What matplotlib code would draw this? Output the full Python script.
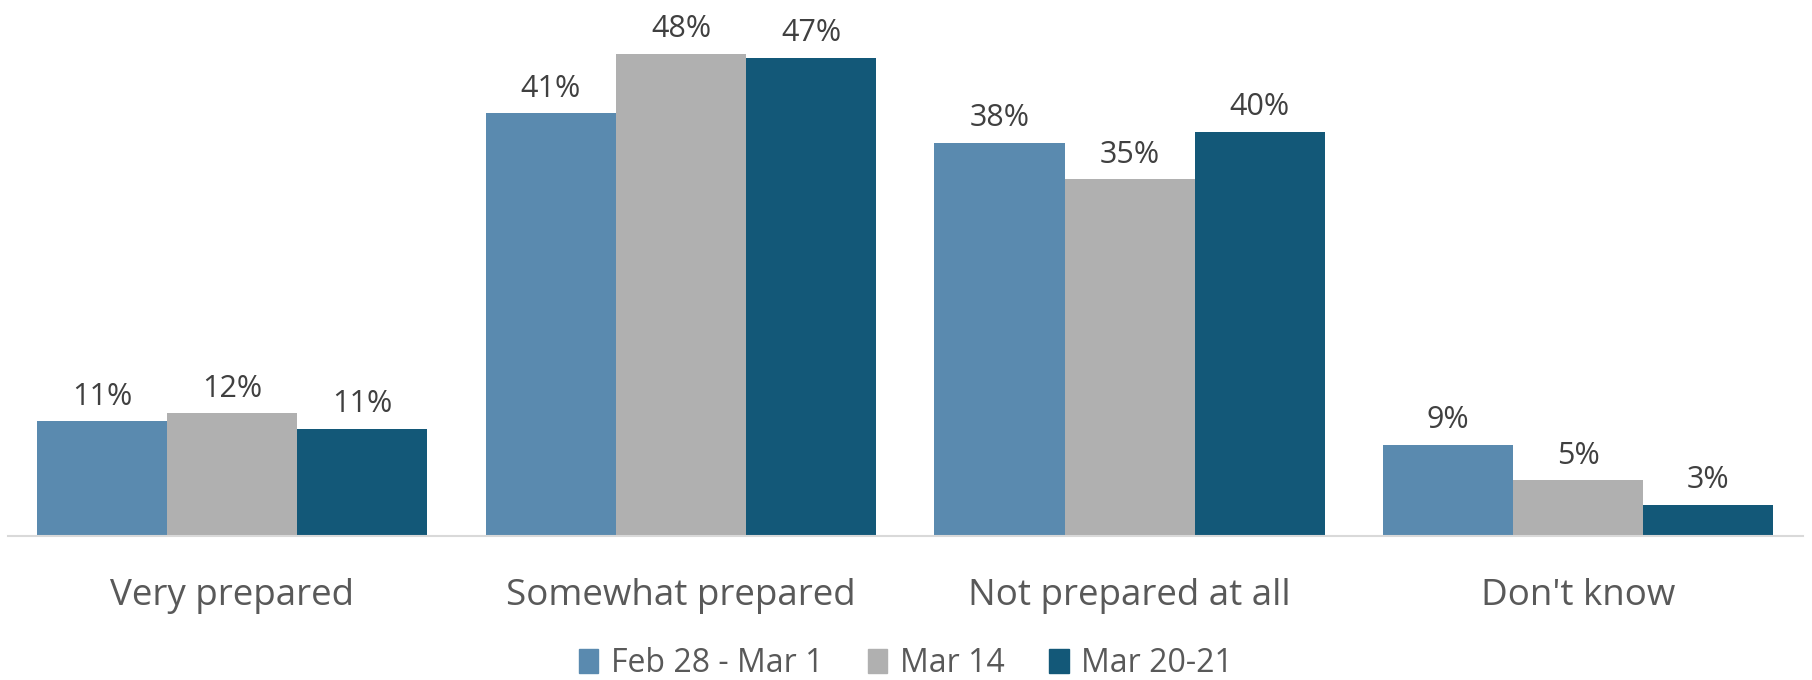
import numpy as np
import matplotlib.pyplot as plt
from matplotlib.patches import Patch

plt.rcParams['font.family'] = ['Open Sans', 'DejaVu Sans']

categories = ["Very prepared", "Somewhat prepared", "Not prepared at all", "Don't know"]
series = ["Feb 28 - Mar 1", "Mar 14", "Mar 20-21"]
values = [
    [11.3, 41.7, 38.8, 9.0],
    [12.1, 47.6, 35.2, 5.5],
    [10.6, 47.2, 39.9, 3.1],
]
labels = [
    ["11%", "41%", "38%", "9%"],
    ["12%", "48%", "35%", "5%"],
    ["11%", "47%", "40%", "3%"],
]
colors = ["#5A8AAF", "#B0B0B0", "#135878"]

fig = plt.figure(figsize=(18.12, 6.8), dpi=100)
ax = fig.add_axes([0.0044, 0.2118, 0.9904, 0.775])

x = np.arange(len(categories))
w = 0.29
for i, (vals, labs) in enumerate(zip(values, labels)):
    pos = x + (i - 1) * w
    ax.bar(pos, vals, width=w, color=colors[i], label=series[i])
    for p, v, t in zip(pos, vals, labs):
        ax.annotate(t, (p, v), xytext=(0, 7), textcoords="offset points",
                    ha="center", va="bottom", fontsize=22, color="#404040")

ax.set_xlim(-0.5, 3.5)
ax.set_ylim(0, 52)
ax.set_yticks([])
ax.set_xticks(x)
ax.set_xticklabels(categories, fontsize=26.5, color="#595959")
ax.tick_params(axis="x", length=0, pad=30)
for s in ["top", "right", "left"]:
    ax.spines[s].set_visible(False)
ax.spines["bottom"].set_color("#D9D9D9")
ax.spines["bottom"].set_linewidth(1.5)

handles = [Patch(color=c) for c in colors]
fig.legend(handles, series, loc="center", bbox_to_anchor=(0.5, 0.024),
           ncol=3, frameon=False, fontsize=23, labelcolor="#595959",
           handlelength=0.6, handleheight=0.8, handletextpad=0.4,
           columnspacing=1.4)

fig.savefig("out.png", dpi=100)
